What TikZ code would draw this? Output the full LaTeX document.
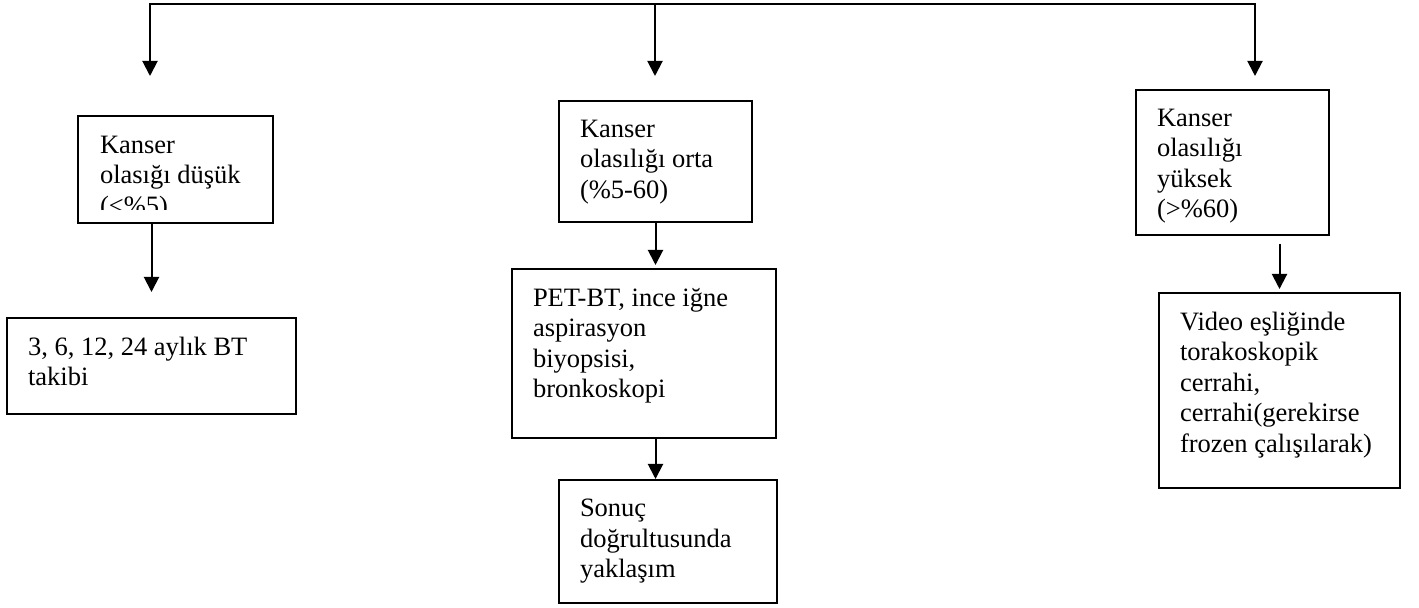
\documentclass[tikz,border=0pt]{standalone}
\usepackage{fontspec}
\setmainfont{Liberation Serif}
\usetikzlibrary{arrows.meta}

% text block of a box: width, height, lines
\newcommand{\boxtext}[3]{\parbox[t][#2][t]{#1}{\raggedright #3}}

\begin{document}
\begin{tikzpicture}[x=0.5pt,y=-0.5pt,line width=1pt,
  >={Triangle[length=7.5pt,width=7.5pt]},
  box/.style={draw,anchor=north west,inner xsep=10.5pt,inner ysep=9.5pt,
    font=\fontsize{13.25}{15.25}\selectfont}]

  \useasboundingbox (0,0) rectangle (1419,608);

  % first row
  \begin{scope}
    \clip (78,116) rectangle (271,210);
    \node[box,draw=none] (low) at (78,116)
      {\boxtext{75.5pt}{33.5pt}{Kanser\\olasığı düşük\\(<\%5)}};
  \end{scope}
  \draw (low.north west) rectangle (low.south east);
  \node[box] (mid) at (558,100)
    {\boxtext{75.5pt}{41.5pt}{Kanser\\olasılığı orta\\(\%5-60)}};
  \node[box] (high) at (1135,89)
    {\boxtext{75.5pt}{53.5pt}{Kanser\\olasılığı\\yüksek\\(>\%60)}};

  % second row
  \node[box] (takip) at (6,317)
    {\boxtext{123.5pt}{29pt}{3, 6, 12, 24 aylık BT\\takibi}};
  \node[box] (pet) at (511,268)
    {\boxtext{111pt}{65.5pt}{PET-BT, ince iğne\\aspirasyon\\biyopsisi,\\bronkoskopi}};
  \node[box] (vats) at (1158,292)
    {\boxtext{99.5pt}{78.5pt}{Video eşliğinde\\torakoskopik\\cerrahi,\\cerrahi(gerekirse\\frozen çalışılarak)}};

  % third row
  \node[box] (sonuc) at (558,479)
    {\boxtext{88pt}{42.5pt}{Sonuç\\doğrultusunda\\yaklaşım}};

  % top branch
  \coordinate (tl) at (150,4);
  \coordinate (tm) at (655,4);
  \coordinate (tr) at (1255,4);
  \coordinate (al) at (150,76);
  \coordinate (am) at (655,76);
  \coordinate (ar) at (1255,76);
  \draw[<->] (al) -- (tl) -- (tr) -- (ar);
  \draw[->] (tm) -- (am);

  % arrows between boxes
  \draw[->,shorten >=12.5pt] (low.south -| takip.north) -- (takip.north);
  \draw[->,shorten >=1.5pt] (mid.south) -- (mid.south |- pet.north);
  \draw[->] (pet.south -| mid.south) -- (mid.south |- sonuc.north);
  \draw[->,shorten <=4pt,shorten >=1.5pt] (high.south -| vats.north) -- (vats.north);
\end{tikzpicture}
\end{document}
